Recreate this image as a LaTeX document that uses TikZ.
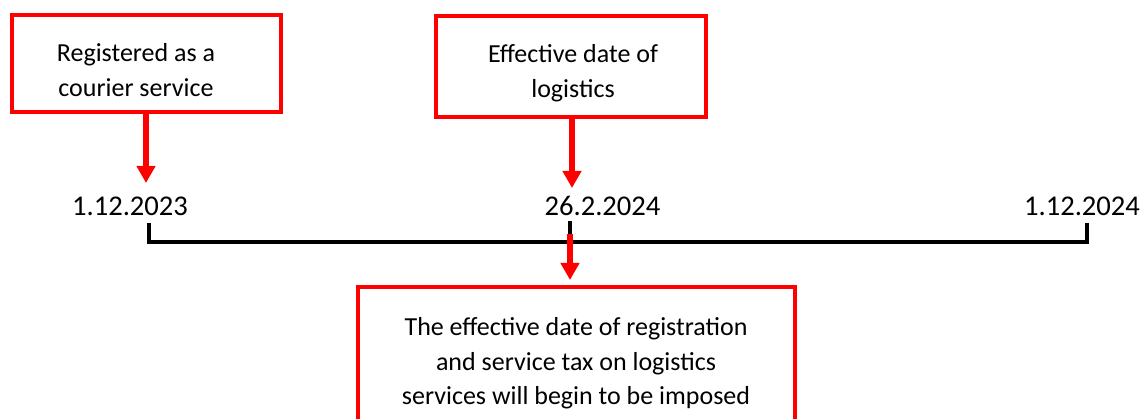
\documentclass[tikz,border=0pt]{standalone}
\usepackage{fontspec}
\setmainfont{Carlito}
\usetikzlibrary{arrows.meta}
\begin{document}
\begin{tikzpicture}[x=1pt,y=-1pt,
  redbox/.style={draw=red, line width=4pt, inner sep=0pt, outer sep=0pt},
  boxtext/.style={align=center, inner sep=0pt, anchor=base, font=\fontsize{26}{35}\selectfont},
  datetext/.style={inner sep=0pt, anchor=base, font=\fontsize{28.6}{34}\selectfont},
  redarrow/.style={draw=red, line width=5.5pt, -{Triangle[length=17pt,width=18pt]}},
  tline/.style={draw=black, line width=4pt}]
\useasboundingbox (0,0) rectangle (1143,419);
\clip (0,0) rectangle (1143,419);
% boxes
\node (b1) [redbox, minimum width=269pt, minimum height=97pt] at (146.5,63.5) {};
\node (b2) [redbox, minimum width=270pt, minimum height=101pt] at (571,66.5) {};
\node (b3) [redbox, minimum width=437pt, minimum height=193pt] at (576.5,383.5) {};
% box texts (base = last line)
\node (t1) [boxtext] at (136,97) {Registered as a\\courier service};
\node (t2) [boxtext] at (573,98) {Effective date of\\logistics};
\node (t3) [boxtext] at (576,405) {The effective date of registration\\and service tax on logistics\\services will begin to be imposed};
% dates
\node (d1) [datetext] at (130,215.5) {1.12.2023};
\node (d2) [datetext] at (602.5,215.5) {26.2.2024};
\node (d3) [datetext] at (1082,215.5) {1.12.2024};
% timeline
\coordinate (L) at (149,223);
\coordinate (R) at (1087,223);
\coordinate (M) at (570,221);
\coordinate (Lb) at (149,242);
\coordinate (Rb) at (1087,242);
\coordinate (Mb) at (570,242);
\draw[tline] (L) -- (Lb) -- (Rb) -- (R);
\draw[tline] (M) -- (Mb);
% arrows
\coordinate (a1) at (146,183);
\coordinate (a2) at (572,188);
\coordinate (m0) at (570,234);
\coordinate (a3) at (570,280);
\draw[redarrow] (b1.south -| a1) -- (a1);
\draw[redarrow] (b2.south -| a2) -- (a2);
\draw[redarrow] (m0) -- (a3);
\end{tikzpicture}
\end{document}
